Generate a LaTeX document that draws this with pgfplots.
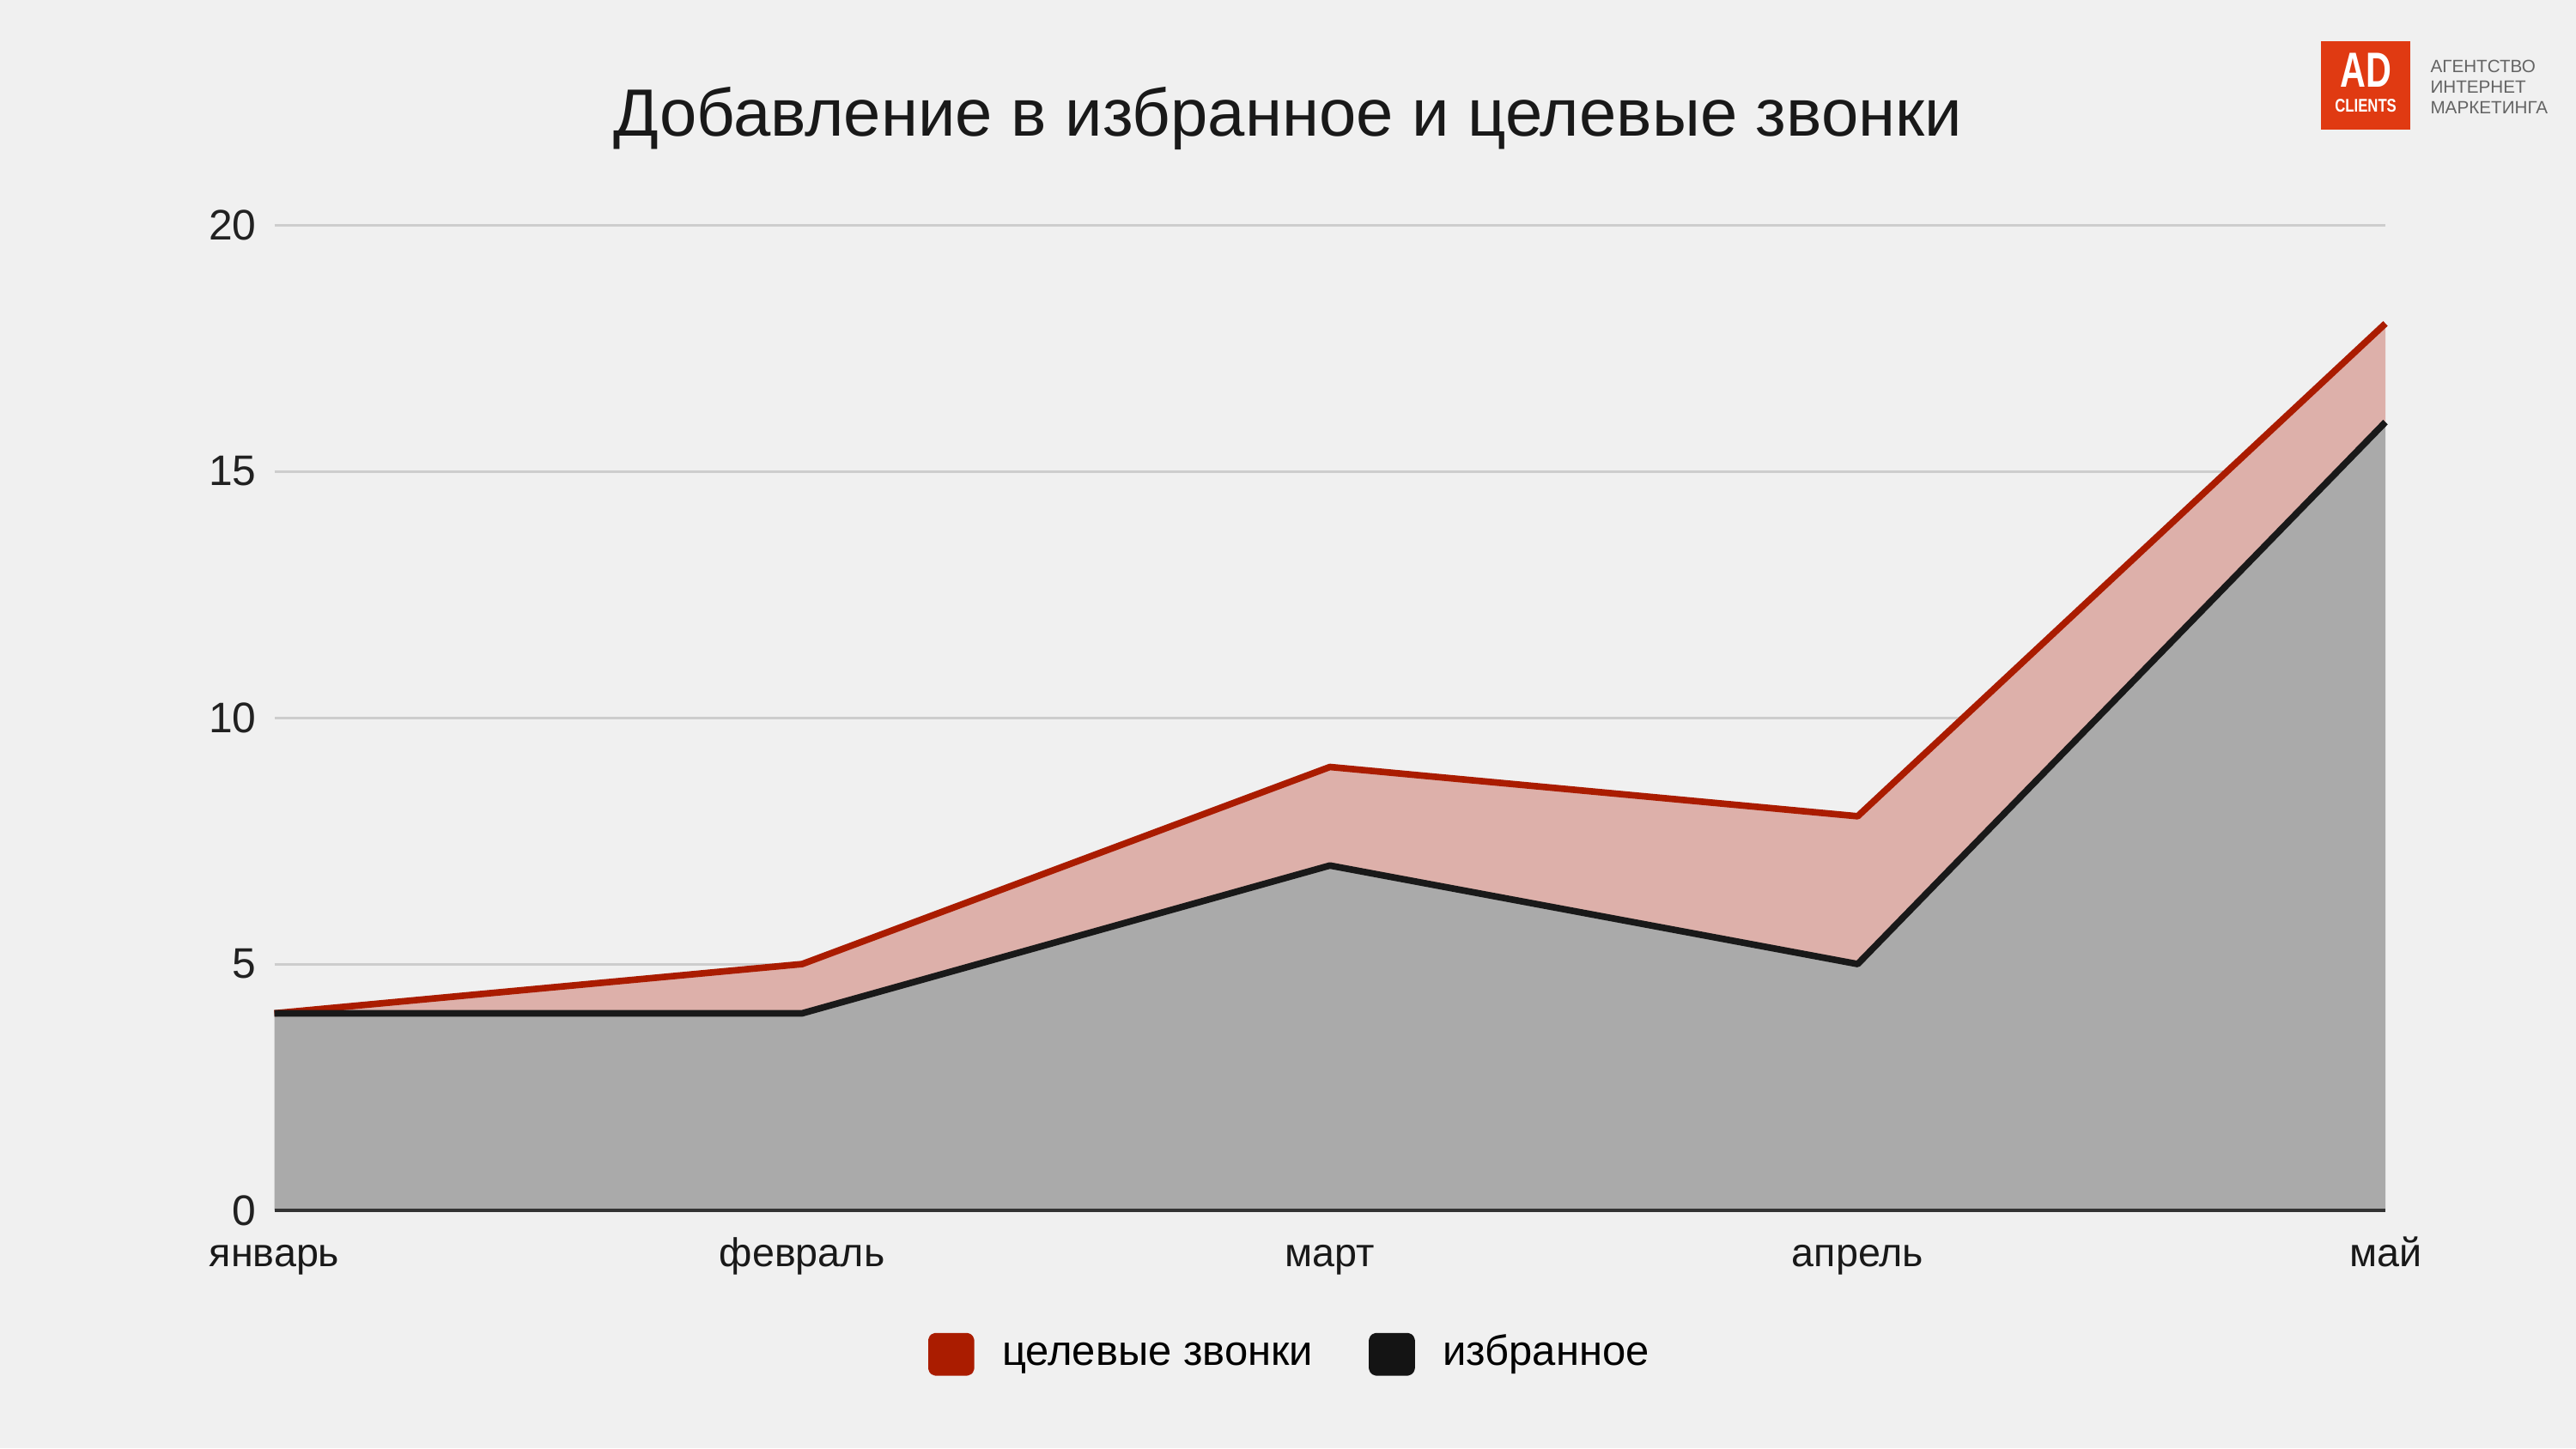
\documentclass[border=0pt]{standalone}
\usepackage{fontspec}
\setmainfont{Liberation Sans}
\usepackage{pgfplots}
\pgfplotsset{compat=1.18}
\definecolor{bg}{RGB}{240,240,240}
\definecolor{redline}{RGB}{170,28,0}
\definecolor{redfill}{RGB}{221,176,170}
\definecolor{grayfill}{RGB}{170,170,170}
\definecolor{gridc}{RGB}{205,205,205}
\definecolor{logored}{RGB}{224,58,18}
\definecolor{logotext}{RGB}{100,100,100}
\begin{document}
\begin{tikzpicture}
\fill[bg] (0,0) rectangle (784pt,441pt);
\begin{axis}[
  at={(83.5pt,72.5pt)}, anchor=south west,
  scale only axis, width=642.5pt, height=300pt,
  xmin=0, xmax=4, ymin=0, ymax=20,
  xtick={0,1,2,3,4},
  xticklabels={январь,февраль,март,апрель,май},
  ytick={0,5,10,15,20},
  /pgf/number format/assume math mode=true,
  yticklabel style={font=\fontsize{13}{15}\selectfont, text=black!87, xshift=-2pt},
  xticklabel style={font=\fontsize{12.2}{14}\selectfont, text=black!90, anchor=base, yshift=-17pt},
  major tick length=0pt,
  ymajorgrids, grid style={gridc, line width=0.8pt},
  axis line style={draw=none},
  clip=false,
  legend style={at={(0.4805,-0.146)}, anchor=center, draw=none, fill=none,
    font=\fontsize{12.8}{15}\selectfont, legend columns=2,
    nodes={inner sep=0pt, text height=1.75ex, text depth=0.45ex},
    /tikz/every odd column/.append style={column sep=8.5pt},
    /tikz/every even column/.append style={column sep=17pt},
    legend cell align=left},
]
\addplot[fill=grayfill, draw=none, forget plot] coordinates {(0,4)(1,4)(2,7)(3,5)(4,16)} \closedcycle;
\addplot[fill=redfill, draw=none, forget plot] coordinates {(0,4)(1,5)(2,9)(3,8)(4,18)(4,16)(3,5)(2,7)(1,4)(0,4)};
\addplot[black!80, line width=1pt, forget plot] coordinates {(0,0)(4,0)};
\addplot[redline, line width=2pt, line join=round,
  legend image code/.code={\fill[redline, rounded corners=1.2pt] (0pt,-5.5pt) rectangle (12pt,5.5pt);}]
  coordinates {(0,4)(1,5)(2,9)(3,8)(4,18)};
\addlegendentry{целевые звонки}
\addplot[black!90, line width=2pt, line join=round,
  legend image code/.code={\fill[black!92, rounded corners=1.2pt] (0pt,-5.5pt) rectangle (12pt,5.5pt);}]
  coordinates {(0,4)(1,4)(2,7)(3,5)(4,16)};
\addlegendentry{избранное}
\end{axis}
\node[font=\fontsize{20.35}{24}\selectfont, text=black!90] at (392pt,405pt) {Добавление в избранное и целевые звонки};
% logo
\fill[logored] (706.5pt,401.5pt) rectangle (733.5pt,428.5pt);
\node[font=\bfseries\fontsize{15}{15}\selectfont, text=white, inner sep=0pt, anchor=base] at (720pt,414.5pt) {\scalebox{0.72}[1]{AD}};
\node[font=\bfseries\fontsize{5.6}{6}\selectfont, text=white, inner sep=0pt, anchor=base] at (720pt,407pt) {\scalebox{0.78}[1]{CLIENTS}};
\node[anchor=west, font=\fontsize{5.4}{6.25}\selectfont, text=logotext, inner sep=0pt, align=left] at (739.5pt,414.5pt) {АГЕНТСТВО\\ИНТЕРНЕТ\\МАРКЕТИНГА};
\pgfresetboundingbox
\useasboundingbox (0,0) rectangle (784pt,441pt);
\end{tikzpicture}
\end{document}
